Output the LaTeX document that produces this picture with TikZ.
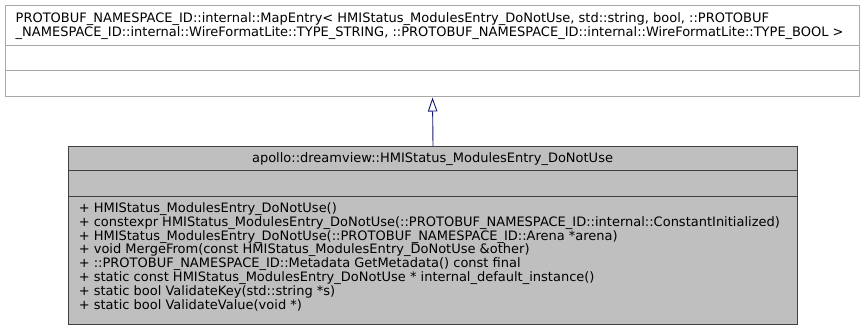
\documentclass[tikz,border=0pt]{standalone}
\usepackage{fontspec}
\setmainfont{DejaVu Sans}
\usetikzlibrary{arrows.meta}
\definecolor{edgegray}{HTML}{A8A8A8}
\definecolor{boxgray}{HTML}{BFBFBF}
\definecolor{boxline}{HTML}{404040}
\definecolor{inherit}{HTML}{191970}
\begin{document}
\begin{tikzpicture}[x=1pt,y=1pt,
  font=\fontsize{13}{13.8}\selectfont,
  classbox/.style={draw=edgegray, fill=white, line width=1pt, inner sep=0pt, anchor=north west},
  mainbox/.style={draw=boxline, fill=boxgray, line width=1pt, inner sep=0pt, anchor=north west},
  txt/.style={inner sep=0pt, anchor=base west},
  inheritance/.style={draw=inherit, line width=0.9pt, -{Triangle[open, length=14pt, width=9.5pt]}}]
\useasboundingbox (0,0) rectangle (865,-331);
\fill[white] (0,0) rectangle (865,-331);

% base class: MapEntry template instance
\node[classbox, minimum width=854pt, minimum height=91.5pt] (base) at (5,-5) {};
\draw[edgegray, line width=1pt] (base.west |- 0,-46) -- (base.east |- 0,-46);
\draw[edgegray, line width=1pt] (base.west |- 0,-71) -- (base.east |- 0,-71);
\node[txt] (baseA) at (15.5,-22.5) {PROTOBUF\_NAMESPACE\_ID::internal::MapEntry< HMIStatus\_ModulesEntry\_DoNotUse, std::string, bool, ::PROTOBUF};
\node[txt] (baseB) at (15.5,-36.3) {\_NAMESPACE\_ID::internal::WireFormatLite::TYPE\_STRING, ::PROTOBUF\_NAMESPACE\_ID::internal::WireFormatLite::TYPE\_BOOL >};

% derived class
\node[mainbox, minimum width=729pt, minimum height=178pt] (derived) at (68,-146) {};
\draw[boxline, line width=1pt] (derived.west |- 0,-171) -- (derived.east |- 0,-171);
\draw[boxline, line width=1pt] (derived.west |- 0,-197) -- (derived.east |- 0,-197);
\node[inner sep=0pt, anchor=base] (title) at (432.5,-163) {apollo::dreamview::HMIStatus\_ModulesEntry\_DoNotUse};

\foreach \i/\t in {
  0/{+ HMIStatus\_ModulesEntry\_DoNotUse()},
  1/{+ constexpr HMIStatus\_ModulesEntry\_DoNotUse(::PROTOBUF\_NAMESPACE\_ID::internal::ConstantInitialized)},
  2/{+ HMIStatus\_ModulesEntry\_DoNotUse(::PROTOBUF\_NAMESPACE\_ID::Arena *arena)},
  3/{+ void MergeFrom(const HMIStatus\_ModulesEntry\_DoNotUse \&other)},
  4/{+ ::PROTOBUF\_NAMESPACE\_ID::Metadata GetMetadata() const final},
  5/{+ static const HMIStatus\_ModulesEntry\_DoNotUse * internal\_default\_instance()},
  6/{+ static bool ValidateKey(std::string *s)},
  7/{+ static bool ValidateValue(void *)}}
  \node[txt] (m\i) at (78.6,-212.5-13.8*\i) {\t};

\draw[inheritance] (derived.north) -- (base.south);
\end{tikzpicture}
\end{document}
